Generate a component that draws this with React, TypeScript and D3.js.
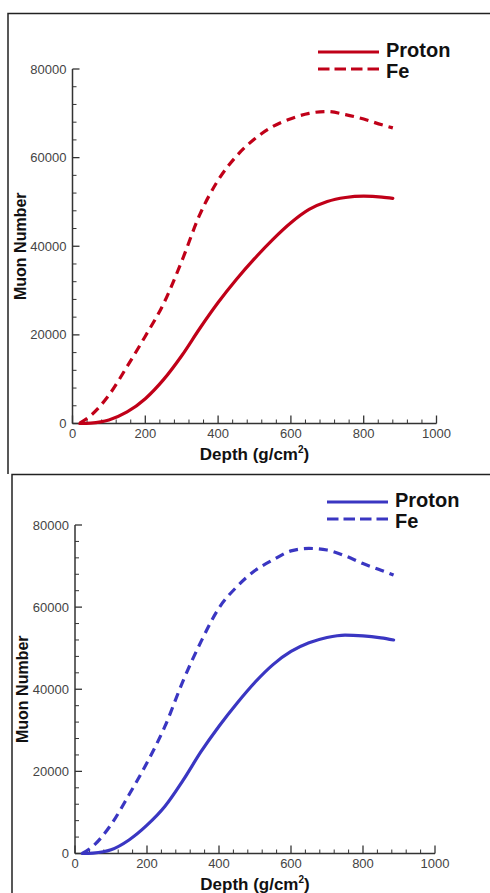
import React from "react";
import * as d3 from "d3";

// Depth grid (g/cm^2)
const depthsTop = [20, 50, 100, 150, 200, 250, 300, 350, 400, 450, 500, 550, 600, 650, 700, 750, 800, 850, 880];
const protonTop = [0, 100, 800, 2600, 5600, 9900, 15300, 21500, 27300, 32500, 37200, 41500, 45300, 48300, 50100, 51000, 51300, 51100, 50800];
const feTop = [100, 1800, 6400, 12850, 19700, 27000, 36600, 47200, 54900, 60300, 64200, 67000, 68800, 70000, 70400, 69700, 68700, 67400, 66700];

const depthsBottom = [20, 50, 100, 150, 200, 250, 300, 350, 400, 450, 500, 550, 600, 650, 700, 750, 800, 850, 885];
const protonBottom = [0, 100, 900, 3300, 6900, 11500, 17800, 24800, 31000, 36600, 41700, 46000, 49200, 51300, 52600, 53200, 53000, 52500, 52000];
const feBottom = [0, 1800, 7000, 14300, 22100, 31000, 42000, 51600, 59800, 65000, 68900, 71500, 73700, 74300, 73900, 72500, 70600, 69000, 67800];

const xMajorTicks = [0, 200, 400, 600, 800, 1000];
const yMajorTicks = [0, 20000, 40000, 60000, 80000];
const seriesNames = ["Proton", "Fe"];

type PanelProps = {
  x0: number; x1: number; y0: number; y1: number;
  depths: number[]; proton: number[]; fe: number[];
  color: string;
  legendX: number; legendY: number;
  yLabelX: number;
};

function Panel(p: PanelProps) {
  const x = d3.scaleLinear().domain([0, 1000]).range([p.x0, p.x1]);
  const y = d3.scaleLinear().domain([0, 80000]).range([p.y0, p.y1]);
  const line = d3
    .line<[number, number]>()
    .x((d) => x(d[0]))
    .y((d) => y(d[1]))
    .curve(d3.curveMonotoneX);
  const protonPts = p.depths.map((d, i) => [d, p.proton[i]] as [number, number]);
  const fePts = p.depths.map((d, i) => [d, p.fe[i]] as [number, number]);
  const xMinor = d3.range(0, 1001, 40).filter((v) => v % 200 !== 0);
  const yMinor = d3.range(0, 80001, 4000).filter((v) => v % 20000 !== 0);
  const axisColor = "#333";
  const tickFont = "Liberation Sans, Arial, sans-serif";
  return (
    <g>
      {/* axes lines */}
      <line x1={x(0)} x2={x(1000)} y1={y(0)} y2={y(0)} stroke={axisColor} strokeWidth={1.5} />
      <line x1={x(0)} x2={x(0)} y1={y(0)} y2={y(80000)} stroke={axisColor} strokeWidth={1.5} />
      {xMajorTicks.map((v) => (
        <g key={"xm" + v}>
          <line x1={x(v)} x2={x(v)} y1={y(0)} y2={y(0) - 8} stroke={axisColor} strokeWidth={1.3} />
          <text x={x(v)} y={y(0) + 14.5} textAnchor="middle" fontSize={13} fill="#444" fontFamily={tickFont}>
            {v}
          </text>
        </g>
      ))}
      {xMinor.map((v) => (
        <line key={"xn" + v} x1={x(v)} x2={x(v)} y1={y(0)} y2={y(0) - 4} stroke={axisColor} strokeWidth={1} />
      ))}
      {yMajorTicks.map((v) => (
        <g key={"ym" + v}>
          <line x1={x(0)} x2={x(0) + 7} y1={y(v)} y2={y(v)} stroke={axisColor} strokeWidth={1.3} />
          <text x={x(0) - 6} y={y(v)} dy="0.35em" textAnchor="end" fontSize={13} fill="#444" fontFamily={tickFont}>
            {v}
          </text>
        </g>
      ))}
      {yMinor.map((v) => (
        <line key={"yn" + v} x1={x(0)} x2={x(0) + 4} y1={y(v)} y2={y(v)} stroke={axisColor} strokeWidth={1} />
      ))}
      {/* axis titles */}
      <text
        x={(p.x0 + p.x1) / 2 + 0}
        y={y(0) + 36.5}
        textAnchor="middle"
        fontSize={17}
        fontWeight="bold"
        fill="#111"
        fontFamily={tickFont}
      >
        Depth (g/cm<tspan dy={-7} fontSize={10}>2</tspan><tspan dy={7}>)</tspan>
      </text>
      <text
        transform={`translate(${p.yLabelX},${(p.y0 + p.y1) / 2}) rotate(-90)`}
        textAnchor="middle"
        fontSize={16}
        fontWeight="bold"
        fill="#111"
        fontFamily={tickFont}
      >
        Muon Number
      </text>
      {/* curves */}
      <path d={line(protonPts) || ""} fill="none" stroke={p.color} strokeWidth={3.2} strokeLinecap="round" />
      <path d={line(fePts) || ""} fill="none" stroke={p.color} strokeWidth={3.2} strokeDasharray="9,6" />
      {/* legend */}
      <line x1={p.legendX} x2={p.legendX + 61} y1={p.legendY} y2={p.legendY} stroke={p.color} strokeWidth={3.2} />
      <line
        x1={p.legendX}
        x2={p.legendX + 61}
        y1={p.legendY + 17}
        y2={p.legendY + 17}
        stroke={p.color}
        strokeWidth={3.2}
        strokeDasharray="11.5,5"
      />
      <text x={p.legendX + 68} y={p.legendY + 5} fontSize={20} fontWeight="bold" fill="#111" fontFamily={tickFont}>
        {seriesNames[0]}
      </text>
      <text x={p.legendX + 68} y={p.legendY + 25.5} fontSize={20} fontWeight="bold" fill="#111" fontFamily={tickFont}>
        {seriesNames[1]}
      </text>
    </g>
  );
}

export default function App() {
  return (
    <svg
      width={490}
      height={893}
      style={{ position: "absolute", left: 0, top: 0, background: "#fff" }}
    >
      <rect x={0} y={0} width={490} height={893} fill="#fff" />
      {/* panel borders */}
      <path d="M8,474 V13.5 H490" fill="none" stroke="#222" strokeWidth={1.5} />
      <path d="M12,893 V474.5 H490" fill="none" stroke="#222" strokeWidth={1.5} />
      <Panel
        x0={72.5}
        x1={436.5}
        y0={423.5}
        y1={69}
        depths={depthsTop}
        proton={protonTop}
        fe={feTop}
        color="#c00018"
        legendX={318}
        legendY={52}
        yLabelX={26}
      />
      <Panel
        x0={75}
        x1={435}
        y0={853.5}
        y1={525}
        depths={depthsBottom}
        proton={protonBottom}
        fe={feBottom}
        color="#3a36c2"
        legendX={327}
        legendY={502}
        yLabelX={28}
      />
    </svg>
  );
}
